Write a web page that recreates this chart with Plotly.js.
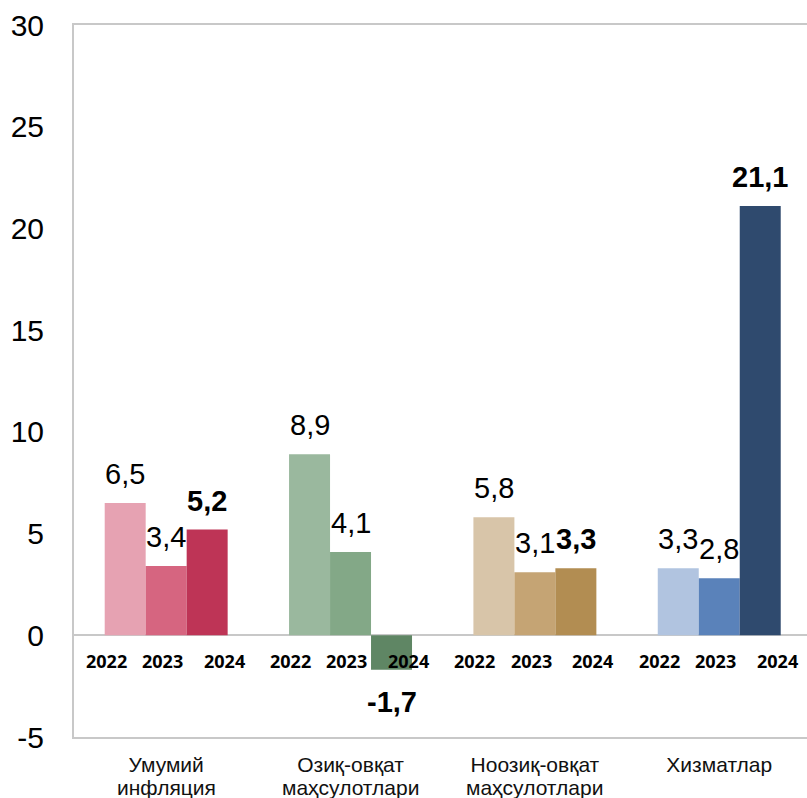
<!DOCTYPE html>
<html><head><meta charset="utf-8">
<script src="https://cdn.plot.ly/plotly-3.0.1.min.js"></script>
<style>html,body{margin:0;padding:0;background:#fff;}#chart{width:807px;height:798px;}</style>
</head><body><div id="chart"></div>
<script>
const categoryLines1 = ['Умумий', 'Озиқ-овқат', 'Ноозиқ-овқат', 'Хизматлар'];
const categoryLines2 = ['инфляция', 'маҳсулотлари', 'маҳсулотлари', ''];
const categories = categoryLines1.map((a, i) => (a + ' ' + categoryLines2[i]).trim());
const years = ['2022', '2023', '2024'];
const v2022 = [6.5, 8.9, 5.8, 3.3];
const v2023 = [3.4, 4.1, 3.1, 2.8];
const v2024 = [5.2, -1.7, 3.3, 21.1];
const c2022 = ['#E6A2B2', '#9AB89E', '#D8C5A9', '#B1C4E0'];
const c2023 = ['#D66580', '#83A887', '#C5A474', '#5A82BA'];
const c2024 = ['#BE3456', '#5F8664', '#B28D52', '#2F4A6E'];
const yTicks = [-5, 0, 5, 10, 15, 20, 25, 30];

const series = [v2022, v2023, v2024];
const colors = [c2022, c2023, c2024];
const boldYear = [false, false, true];
const FONT = 'Liberation Sans, Arial, sans-serif';
const bargap = 0.333;
const barW = (1 - bargap) / 3;
const yearOffsets = [-0.325, -0.02, 0.315];

const traces = series.map((vals, j) => ({
  type: 'bar', name: years[j], x: categories, y: vals,
  marker: {color: colors[j], line: {width: 0}},
  hoverinfo: 'skip', showlegend: false
}));

const fmt = v => v.toFixed(1).replace('.', ',');
const annotations = [];
series.forEach((vals, j) => {
  vals.forEach((v, i) => {
    const xpos = i + (j - 1) * barW;
    annotations.push({
      x: xpos, y: v, xref: 'x', yref: 'y', showarrow: false,
      text: boldYear[j] ? '<b>' + fmt(v) + '</b>' : fmt(v),
      yanchor: 'middle', yshift: v >= 0 ? 29 : -32,
      font: {family: FONT, size: 29, color: '#000'}
    });
    annotations.push({
      x: i + yearOffsets[j], y: 0, xref: 'x', yref: 'y', showarrow: false,
      text: '<b>' + years[j] + '</b>', yanchor: 'middle', yshift: -26,
      font: {family: 'Open Sans, sans-serif', size: 18, color: '#000'}
    });
  });
});
categoryLines2.forEach((t, i) => {
  if (!t) return;
  annotations.push({
    x: i, y: 0, xref: 'x', yref: 'paper', showarrow: false,
    text: t, yanchor: 'middle', yshift: -50,
    font: {family: FONT, size: 21, color: '#111'}
  });
});

const layout = {
  width: 807, height: 798,
  margin: {l: 74, r: 0, t: 25, b: 61},
  paper_bgcolor: '#fff', plot_bgcolor: '#fff',
  barmode: 'group', bargap: bargap, bargroupgap: 0,
  showlegend: false,
  font: {family: FONT, color: '#000'},
  xaxis: {
    type: 'category', range: [-0.5, 3.476],
    tickvals: categories, ticktext: categoryLines1,
    showline: true, mirror: true, linecolor: '#c8c8c8', linewidth: 2,
    showgrid: false, ticks: '', ticklabelstandoff: 8,
    tickfont: {family: FONT, size: 21, color: '#111'}
  },
  yaxis: {
    range: [-5, 30], tickvals: yTicks, ticktext: yTicks.map(String),
    showline: true, mirror: false, linecolor: '#c8c8c8', linewidth: 2,
    showgrid: false, zeroline: true, zerolinecolor: '#c8c8c8', zerolinewidth: 2,
    ticks: '', ticklabelstandoff: 22,
    tickfont: {family: FONT, size: 30, color: '#000'}
  },
  annotations: annotations
};
Plotly.newPlot('chart', traces, layout, {displayModeBar: false, staticPlot: true});
</script></body></html>
